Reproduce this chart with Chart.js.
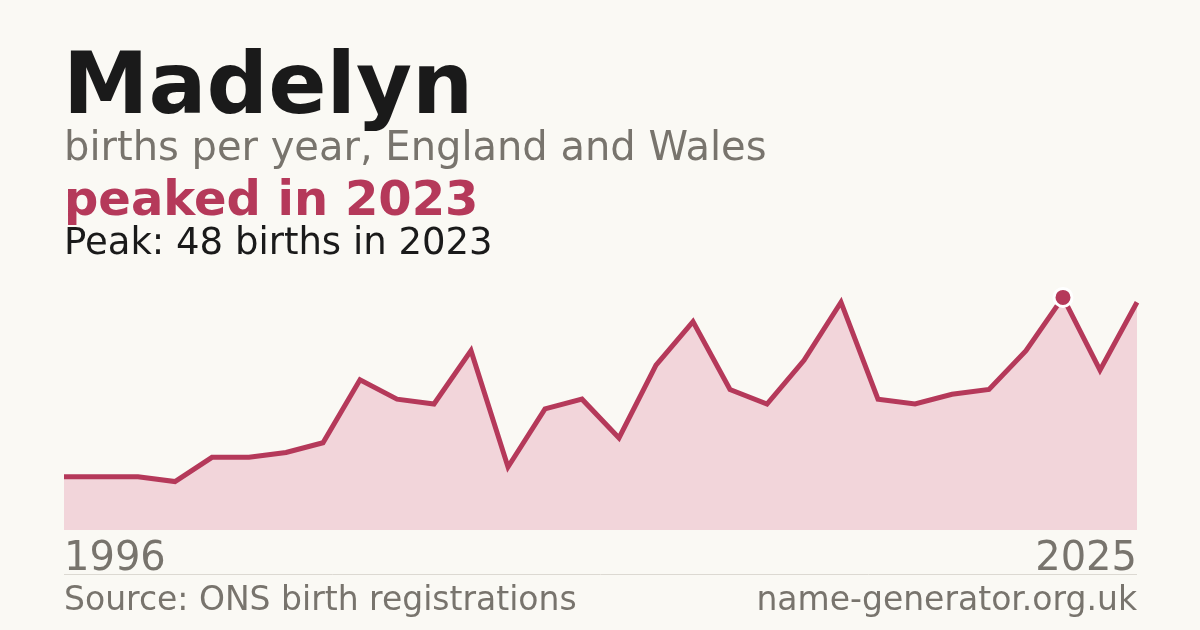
<!DOCTYPE html>
<html>
<head>
<meta charset="utf-8">
<script src="https://cdn.jsdelivr.net/npm/chart.js@4.4.1/dist/chart.umd.min.js"></script>
<style>
  html, body { margin: 0; padding: 0; background: #faf9f4; }
  #wrap { position: relative; width: 1200px; height: 630px; }
</style>
</head>
<body>
<div id="wrap"><canvas id="chart" width="1200" height="630"></canvas></div>
<script>
const nameTitle = 'Madelyn';
const subtitle = 'births per year, England and Wales';
const headline = 'peaked in 2023';
const peakNote = 'Peak: 48 births in 2023';
const sourceText = 'Source: ONS birth registrations';
const siteText = 'name-generator.org.uk';

const years = ['1996', '1997', '1998', '1999', '2000', '2001', '2002', '2003', '2004', '2005',
  '2006', '2007', '2008', '2009', '2010', '2011', '2012', '2013', '2014', '2015',
  '2016', '2017', '2018', '2019', '2020', '2021', '2022', '2023', '2024', '2025'];
const births = [11, 11, 11, 10, 15, 15, 16, 18, 31, 27,
  26, 37, 13, 25, 27, 19, 34, 43, 29, 26,
  35, 47, 27, 26, 28, 29, 37, 48, 33, 47];

const peakIndex = births.indexOf(Math.max(...births));
const accent = '#b5395a';
const grey = '#78746d';
const font = "'DejaVu Sans', sans-serif";

// titles, year labels and footer drawn on the same canvas
const textPlugin = {
  id: 'texts',
  afterDraw(chart) {
    const ctx = chart.ctx;
    const area = chart.chartArea;
    ctx.save();
    ctx.textBaseline = 'alphabetic';
    ctx.textAlign = 'left';

    ctx.fillStyle = '#1a1a1a';
    ctx.font = 'bold 86px ' + font;
    ctx.fillText(nameTitle, 63, 113);

    ctx.fillStyle = grey;
    ctx.font = '40px ' + font;
    ctx.fillText(subtitle, 64, 160);

    ctx.fillStyle = accent;
    ctx.font = 'bold 48px ' + font;
    ctx.fillText(headline, 64, 215);

    ctx.fillStyle = '#1a1a1a';
    ctx.font = '37px ' + font;
    ctx.fillText(peakNote, 64, 254);

    ctx.fillStyle = grey;
    ctx.font = '40px ' + font;
    ctx.fillText(years[0], area.left, 570);
    ctx.textAlign = 'right';
    ctx.fillText(years[years.length - 1], area.right, 570);

    ctx.strokeStyle = '#dcd9d2';
    ctx.lineWidth = 1;
    ctx.beginPath();
    ctx.moveTo(area.left, 574.5);
    ctx.lineTo(area.right, 574.5);
    ctx.stroke();

    ctx.fillStyle = grey;
    ctx.font = '33px ' + font;
    ctx.textAlign = 'left';
    ctx.fillText(sourceText, 64, 610);
    ctx.textAlign = 'right';
    ctx.fillText(siteText, area.right, 610);
    ctx.restore();
  }
};

new Chart(document.getElementById('chart'), {
  type: 'line',
  data: {
    labels: years,
    datasets: [{
      data: births,
      borderColor: accent,
      backgroundColor: '#f2d5da',
      borderWidth: 5,
      fill: 'origin',
      tension: 0,
      pointRadius: births.map((v, i) => i === peakIndex ? 9 : 0),
      pointBackgroundColor: accent,
      pointBorderColor: '#ffffff',
      pointBorderWidth: 3,
      clip: 10
    }]
  },
  options: {
    responsive: false,
    animation: false,
    devicePixelRatio: 1,
    layout: { padding: { left: 64, right: 63, top: 278, bottom: 100 } },
    plugins: {
      legend: { display: false },
      tooltip: { enabled: false }
    },
    scales: {
      x: { display: false, offset: false },
      y: { display: false, min: 0, max: 52 }
    }
  },
  plugins: [textPlugin]
});
</script>
</body>
</html>
